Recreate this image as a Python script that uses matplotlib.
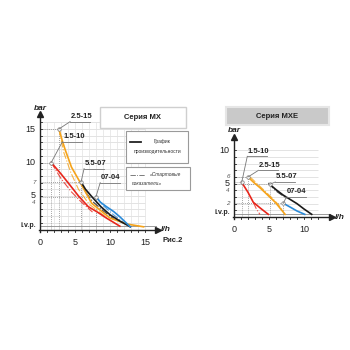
import matplotlib
matplotlib.use("Agg")

import matplotlib.pyplot as plt
from matplotlib.patches import Rectangle

plt.rcParams["font.family"] = ["Liberation Sans", "DejaVu Sans"]

# ---- data: MX series (left chart) ----
mx_series = ["1.5-10", "2.5-15", "5.5-07", "07-04"]
mx_flow = {
    "1.5-10": [1.6, 3.0, 4.3, 5.5, 6.9, 8.2, 9.5, 11.4],
    "2.5-15": [2.7, 3.2, 3.6, 4.5, 5.7, 7.4, 10.0, 12.5, 14.8],
    "5.5-07": [5.86, 6.5, 7.4, 8.7, 10.0, 11.5, 12.9],
    "07-04":  [8.0, 8.6, 9.5, 10.5, 11.4, 12.2, 12.9],
}
mx_bar = {
    "1.5-10": [10.0, 8.3, 6.6, 5.0, 3.4, 2.6, 1.7, 0.5],
    "2.5-15": [15.0, 13.2, 11.9, 9.3, 7.1, 3.9, 1.7, 0.8, 0.4],
    "5.5-07": [7.1, 6.0, 4.9, 3.4, 2.2, 1.2, 0.4],
    "07-04":  [4.9, 4.1, 3.4, 2.7, 1.9, 1.1, 0.4],
}
mx_start_flow = {
    "1.5-10": [1.6, 3.0, 4.5, 5.9, 7.5],
    "2.5-15": [2.7, 3.4, 4.4, 5.5, 7.0, 9.5],
    "5.5-07": [5.86, 6.5, 7.5, 9.0, 10.5],
    "07-04":  [8.0, 9.0, 10.5, 12.0],
}
mx_start_bar = {
    "1.5-10": [10.0, 7.6, 5.6, 4.1, 2.6],
    "2.5-15": [15.0, 11.5, 8.5, 6.0, 3.8, 1.8],
    "5.5-07": [7.1, 5.6, 4.2, 2.8, 1.6],
    "07-04":  [4.9, 3.6, 2.2, 1.0],
}
mx_label_pos = {"1.5-10": (3.2, 13.1), "2.5-15": (4.3, 16.1),
                "5.5-07": (6.3, 9.1), "07-04": (8.6, 7.0)}
mx_yticks = [15, 10, 5]
mx_small_yticks = [7, 4]
mx_xticks = [0, 5, 10, 15]

# ---- data: MXE series (right chart) ----
mxe_series = ["1.5-10", "2.5-15", "5.5-07", "07-04"]
mxe_flow = {
    "1.5-10": [1.1, 2.0, 2.76, 3.8, 4.9],
    "2.5-15": [2.0, 2.8, 3.7, 4.8, 5.9, 6.6, 7.3],
    "5.5-07": [5.1, 6.0, 7.0, 8.0, 9.0, 10.0, 11.1],
    "07-04":  [7.05, 8.0, 9.0, 10.1],
}
mxe_bar = {
    "1.5-10": [5.2, 3.7, 2.2, 1.3, 0.4],
    "2.5-15": [6.0, 5.2, 4.4, 3.3, 2.2, 1.3, 0.4],
    "5.5-07": [4.9, 4.1, 3.3, 2.65, 2.0, 1.2, 0.4],
    "07-04":  [2.05, 1.5, 0.9, 0.4],
}
mxe_start_flow = {
    "1.5-10": [2.76, 3.2, 3.7],
    "2.5-15": [2.3, 3.2, 4.2, 5.3, 6.3, 7.0],
    "5.5-07": [4.9, 6.0, 7.5],
}
mxe_start_bar = {
    "1.5-10": [2.2, 1.2, 0.4],
    "2.5-15": [6.0, 5.1, 4.1, 3.0, 1.9, 0.9],
    "5.5-07": [5.1, 3.9, 2.8],
}
mxe_label_pos = {"1.5-10": (1.9, 9.1), "2.5-15": (3.5, 7.0),
                 "5.5-07": (5.9, 5.25), "07-04": (7.5, 3.05)}
mxe_yticks = [10, 5]
mxe_small_yticks = [6, 4, 2]
mxe_xticks = [0, 5, 10]

COLORS = {"1.5-10": "#e8261c", "2.5-15": "#f5a31a",
          "5.5-07": "#1a1a1a", "07-04": "#2a8ad8"}

W, H = 350, 350
fig = plt.figure(figsize=(3.5, 3.5), dpi=100)


def px_axes(x0, y0_px, ppx, ppy, xlim, ylim):
    """Place an axes so that data (0,0) sits at pixel (x0, y0_px)."""
    left = x0 + xlim[0] * ppx
    right = x0 + xlim[1] * ppx
    bottom = y0_px - ylim[0] * ppy
    top = y0_px - ylim[1] * ppy
    ax = fig.add_axes([left / W, 1 - bottom / H, (right - left) / W, (bottom - top) / H])
    ax.set_xlim(*xlim)
    ax.set_ylim(*ylim)
    ax.patch.set_alpha(0)
    for s in ax.spines.values():
        s.set_visible(False)
    return ax


def draw_chart(ax, series, flow, bar, sflow, sbar, lab_pos, yticks, small_yticks,
               xticks, xmax_grid, ymax_grid, xarrow, yarrow, vgrid):
    # grid
    ax.hlines(range(1, ymax_grid + 1), 0, xmax_grid, color="#dedede", lw=0.6, zorder=1)
    if vgrid:
        ax.vlines(range(1, xmax_grid + 1), 0, ymax_grid, color="#e2e2e2", lw=0.5, zorder=1)
    ax.plot([0, xarrow - 0.3], [0.45, 0.45], color="#9a9a9a", lw=0.7, zorder=2)
    # axes with arrows
    ax.plot([-0.2, xarrow], [0, 0], color="#222222", lw=1.0, zorder=3, clip_on=False)
    ax.plot([0, 0], [-0.3, yarrow], color="#222222", lw=1.0, zorder=3, clip_on=False)
    ax.plot([xarrow], [0], marker=">", color="#222222", ms=4, clip_on=False, zorder=3)
    ax.plot([0], [yarrow], marker="^", color="#222222", ms=4, clip_on=False, zorder=3)
    # minor ticks
    for v in range(1, ymax_grid + 1):
        ax.plot([0, 0.35], [v, v], color="#222222", lw=0.6, zorder=3)
    for v in range(1, xmax_grid + 1):
        ax.plot([v, v], [0, -0.35], color="#222222", lw=0.6, zorder=3, clip_on=False)
    # tick labels
    ax.set_xticks([])
    ax.set_yticks([])
    for v in yticks:
        ax.text(-0.6, v, str(v), ha="right", va="center", fontsize=6.5, color="#222222")
    for v in small_yticks:
        ax.text(-0.6, v, str(v), ha="right", va="center", fontsize=4.5,
                style="italic", color="#555555")
    ax.text(-0.6, 0.6, "i.v.p.", ha="right", va="center", fontsize=5,
            weight="bold", color="#222222")
    for v in xticks:
        ax.text(v, -1.2, str(v), ha="center", va="top", fontsize=6.5, color="#222222")
    ax.text(0, yarrow + 0.4, "bar", ha="center", va="bottom", fontsize=6,
            weight="bold", style="italic", color="#222222")
    ax.text(xarrow + 0.4, 0, "l/h", ha="left", va="center", fontsize=6,
            weight="bold", style="italic", color="#222222")
    # curves
    for name in series:
        c = COLORS[name]
        fx, fy = flow[name][0], bar[name][0]
        ax.plot([fx, fx], [0, fy], color="#888888", lw=0.6, ls=(0, (1, 1.5)), zorder=2)
        ax.plot([0, fx], [fy, fy], color="#888888", lw=0.6, ls=(0, (1, 1.5)), zorder=2)
        if name in sflow:
            ax.plot(sflow[name], sbar[name], color=c, lw=0.8, ls="-.", alpha=0.8, zorder=4)
        ax.plot(flow[name], bar[name], color=c, lw=1.2, zorder=5)
        ax.plot([fx], [fy], marker="o", ms=2.5, mfc="white", mec="#777777", mew=0.5, zorder=6)
        lx, ly = lab_pos[name]
        ax.plot([fx, lx], [fy, ly], color="#777777", lw=0.6, zorder=6)
        ax.plot([lx, lx + 2.8], [ly, ly], color="#777777", lw=0.6, zorder=6)
        ax.text(lx + 0.1, ly + 0.25, name, ha="left", va="bottom", fontsize=5.5,
                weight="bold", color="#222222", zorder=7)


# left chart (Серия MX)
ax1 = px_axes(40, 229.5, 7.0, 6.7, (-2.5, 17.5), (-2.0, 18.5))
draw_chart(ax1, mx_series, mx_flow, mx_bar, mx_start_flow, mx_start_bar,
           mx_label_pos, mx_yticks, mx_small_yticks, mx_xticks,
           15, 16, 16.8, 17.2, True)

# right chart (Серия MXE)
ax2 = px_axes(234, 217.0, 7.0, 6.67, (-2.5, 15.0), (-1.8, 13.0))
draw_chart(ax2, mxe_series, mxe_flow, mxe_bar, mxe_start_flow, mxe_start_bar,
           mxe_label_pos, mxe_yticks, mxe_small_yticks, mxe_xticks,
           12, 10, 14.0, 12.0, False)


def fig_box(x0, y0, x1, y1, fc, ec, lw=0.8):
    r = Rectangle((x0 / W, 1 - y1 / H), (x1 - x0) / W, (y1 - y0) / H,
                  transform=fig.transFigure, fc=fc, ec=ec, lw=lw, zorder=10)
    fig.patches.append(r)


# title boxes
fig_box(100, 107, 186, 128, "white", "#cfcfcf", 1.0)
fig.text(143 / W, 1 - 117.5 / H, "Серия MX", ha="center", va="center",
         fontsize=5.5, weight="bold", color="#222222", zorder=11)
fig_box(226, 107, 329, 125, "#c9c9c9", "#e6e6e6", 1.5)
fig.text(277 / W, 1 - 116 / H, "Серия MXE", ha="center", va="center",
         fontsize=5.5, weight="bold", color="#222222", zorder=11)

# legend boxes
fig_box(126, 131, 188, 163, "white", "#9a9a9a", 0.8)
fig.lines.append(plt.Line2D([130 / W, 141 / W], [1 - 142 / H, 1 - 142 / H],
                            transform=fig.transFigure, color="#222222", lw=1.3, zorder=11))
fig.text(162 / W, 1 - 142 / H, "График", ha="center", va="center",
         fontsize=3.5, color="#333333", zorder=11)
fig.text(157 / W, 1 - 151 / H, "производительности", ha="center", va="center",
         fontsize=3.5, color="#333333", zorder=11)

fig_box(126, 167, 190, 190, "white", "#9a9a9a", 0.8)
fig.lines.append(plt.Line2D([130 / W, 145 / W], [1 - 175 / H, 1 - 175 / H],
                            transform=fig.transFigure, color="#666666", lw=0.6, ls="-.",
                            zorder=11))
fig.text(165 / W, 1 - 174.5 / H, "«Стартовые", ha="center", va="center",
         fontsize=3.5, style="italic", color="#333333", zorder=11)
fig.text(147 / W, 1 - 183 / H, "показатели»", ha="center", va="center",
         fontsize=3.5, style="italic", color="#333333", zorder=11)

fig.text(173 / W, 1 - 241 / H, "Рис.2", ha="center", va="center",
         fontsize=5.5, weight="bold", color="#222222")

fig.savefig("out.png", dpi=100)
